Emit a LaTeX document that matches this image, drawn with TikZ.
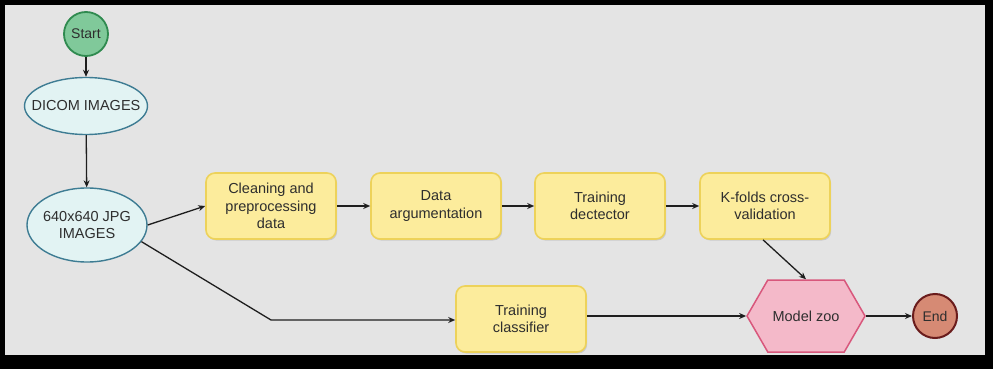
\documentclass[tikz,border=0pt]{standalone}
\usepackage{fontspec}
\setmainfont{Liberation Sans}
\usetikzlibrary{shapes.geometric,shapes.symbols,arrows.meta,shadows}
\definecolor{bgc}{HTML}{E4E4E4}
\definecolor{boxfill}{HTML}{FCEC9C}
\definecolor{boxdraw}{HTML}{EDD25A}
\definecolor{ellfill}{HTML}{E2F3F3}
\definecolor{elldraw}{HTML}{3E7C93}
\definecolor{hexfill}{HTML}{F4B9C9}
\definecolor{hexdraw}{HTML}{D8577C}
\definecolor{startfill}{HTML}{80C99A}
\definecolor{startdraw}{HTML}{2F8A4F}
\definecolor{endfill}{HTML}{D68A74}
\definecolor{enddraw}{HTML}{6A1C1C}
\definecolor{txt}{HTML}{2E2E2E}
\definecolor{lne}{HTML}{1E1E1E}
\tikzset{
  every node/.style={text=txt, font=\fontsize{14.5}{17.5}\selectfont, align=center},
  stepbox/.style={rectangle, rounded corners=9pt, fill=boxfill, draw=boxdraw, line width=1.6pt,
     minimum width=130pt, minimum height=66pt, inner sep=2pt,
     drop shadow={shadow xshift=1.2pt, shadow yshift=-1.5pt, opacity=0.25}},
  ellnode/.style={ellipse, fill=ellfill, draw=elldraw, line width=1.4pt, inner ysep=0pt},
  conn/.style={draw=lne, line width=1.3pt, -{Stealth[length=7pt,width=6pt]}},
}
\begin{document}
\begin{tikzpicture}[x=1pt,y=-1pt]
\fill[black] (0,0) rectangle (993,369);
\fill[bgc] (5,5) rectangle (985,355);
\useasboundingbox (0,0) rectangle (993,369);

\node[circle, fill=startfill, draw=startdraw, line width=1.8pt, minimum size=44pt, inner sep=0pt,
      font=\fontsize{14}{16}\selectfont] (start) at (86,34) {Start};
\node[ellnode, inner xsep=-11pt, minimum width=123pt, minimum height=57pt] (dicom) at (86,106) {DICOM IMAGES};
\node[ellnode, inner xsep=-3pt, minimum width=120pt, minimum height=74pt] (jpg) at (87,225) {640x640 JPG\\IMAGES};

\node[stepbox] (clean) at (271,206) {Cleaning and\\preprocessing\\data};
\node[stepbox] (aug) at (436,206) {Data\\argumentation};
\node[stepbox] (det) at (600,206) {Training\\dectector};
\node[stepbox] (kfold) at (765,206) {K-folds cross-\\validation};
\node[stepbox] (cls) at (521,319) {Training\\classifier};

\node[signal, signal to=west and east, signal pointer angle=120, fill=hexfill, draw=hexdraw,
      line width=1.5pt, minimum width=118pt, minimum height=72pt, inner sep=0pt] (zoo) at (806,316) {Model zoo};
\node[circle, fill=endfill, draw=enddraw, line width=2pt, minimum size=44pt, inner sep=0pt,
      font=\fontsize{14}{16}\selectfont] (end) at (935,316) {End};

\coordinate (bend) at (271,320);

\draw[conn] (start) -- (dicom);
\draw[conn] (dicom) -- (jpg);
\draw[conn] (jpg.east) -- (clean.west);
\draw[conn] (clean) -- (aug);
\draw[conn] (aug) -- (det);
\draw[conn] (det) -- (kfold);
\draw[conn] (kfold.south) ++(-2,0) -- (zoo.north);
\draw[conn] (jpg.-17) -- (bend) -- (cls.west |- bend);
\draw[conn] (cls.east |- zoo.west) -- (zoo.west);
\draw[conn] (zoo.east) -- (end.west);
\end{tikzpicture}
\end{document}
